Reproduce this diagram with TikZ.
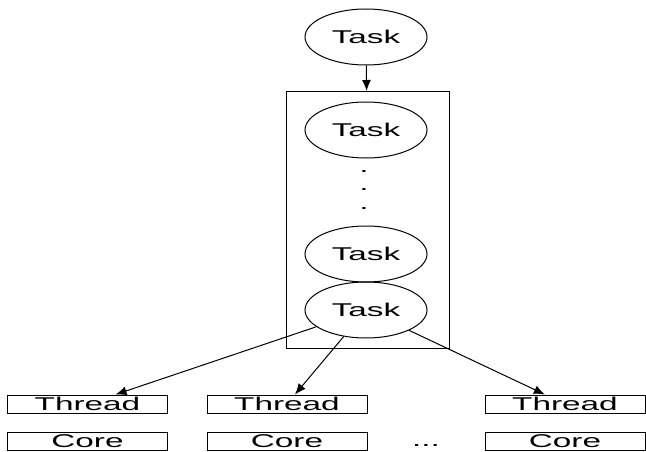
\documentclass[tikz,border=0pt]{standalone}
\usepackage{fontspec}
\setmainfont{Liberation Sans}[FakeStretch=1.8]
\usetikzlibrary{shapes.geometric,arrows.meta,fit}
\tikzset{
    task/.style={draw, ellipse, minimum width=122pt, minimum height=56pt, inner sep=0pt},
    unit/.style={draw, rectangle, minimum width=160pt, minimum height=18pt, inner sep=0pt},
    link/.style={-{Latex[length=11pt,width=9pt]}}
}
\begin{document}
\begin{tikzpicture}[x=1pt, y=-1pt, line width=1pt, font=\fontsize{18.5}{20}\selectfont]
        \useasboundingbox (0,0) rectangle (646,452);
        \node[task] (t1) at (366,37) {Task};
        \node[task] (t2) at (366,130) {Task};
        \node[task] (t3) at (366,254) {Task};
        \node[task] (t4) at (366,310) {Task};
        \foreach \i/\y in {1/172,2/190,3/209}
            \node[inner sep=0pt] (d\i) at (364,\y) {.};
        \node[draw, inner xsep=20pt, inner ysep=10pt, xshift=2pt, fit=(t2) (t4)] (queue) {};
        \node[unit] (th1) at (87.5,404) {Thread};
        \node[unit] (th2) at (287,404) {Thread};
        \node[unit] (th3) at (565,404) {Thread};
        \node[unit] (c1) at (87.5,441) {Core};
        \node[unit] (c2) at (287,441) {Core};
        \node[unit] (c3) at (565,441) {Core};
        \node[inner sep=0pt] (more) at (426,446) {...};
        \draw[link] (t1) -- (queue);
        \draw[link] (t4) -- (th1);
        \draw[link] (t4) -- (th2);
        \draw[link] (t4) -- (th3);
    \end{tikzpicture}
\end{document}
